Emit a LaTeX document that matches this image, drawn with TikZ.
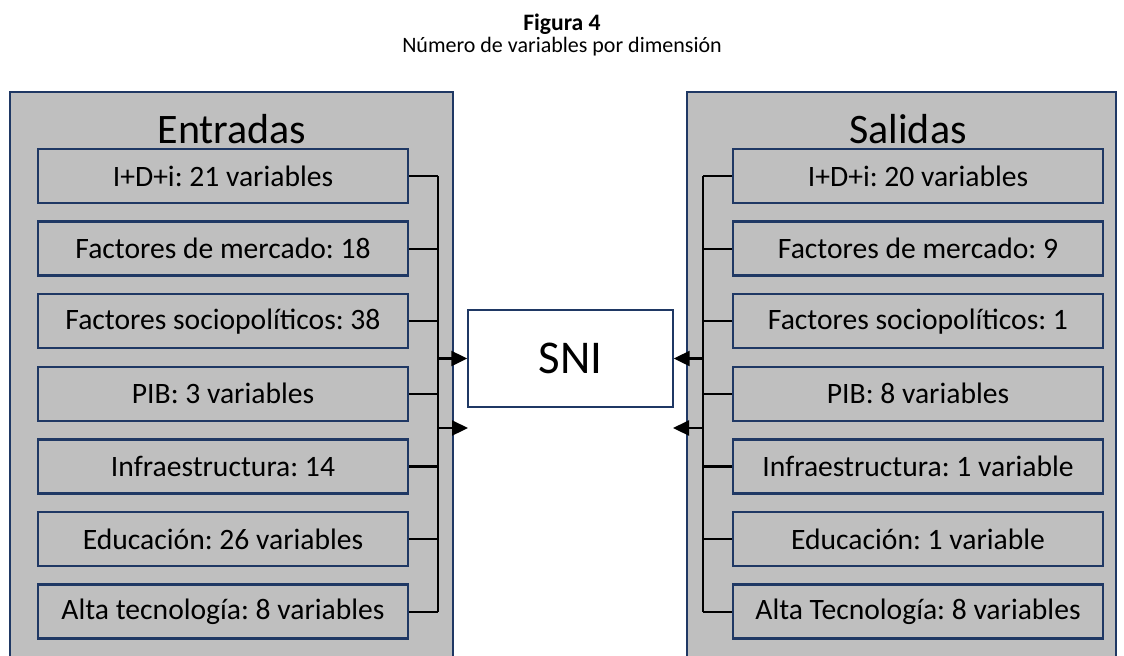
\documentclass[tikz,border=0pt]{standalone}
\usepackage{fontspec}
\setmainfont{Carlito}
\usetikzlibrary{arrows.meta}
\definecolor{navy}{RGB}{31,56,100}
\definecolor{boxgray}{RGB}{191,191,191}
\frenchspacing

\begin{document}
\begin{tikzpicture}[x=0.5pt,y=-0.5pt,
        panel/.style={
          draw=navy,fill=boxgray,line width=0.8pt
        },
        item/.style={
          draw=navy,fill=boxgray,line width=1.2pt,minimum width=185pt,
          minimum height=27pt,inner sep=0pt,font=\fontsize{14.8}{17}\selectfont
        },
        bus/.style={line width=1.1pt},
        feed/.style={bus,-{Triangle[length=8pt,width=7.5pt]}}
      ]
      \clip (0,0) rectangle (1124,655);
      \node [font=\bfseries\fontsize{11.8}{14}\selectfont,anchor=base] (fig) at (562,30) {Figura 4};
      \node [font=\fontsize{11}{13}\selectfont,anchor=base] (cap) at (562,52) {Número de variables por dimensión};
      \draw [panel] (10,92) rectangle (453,700);
      \draw [panel] (687,92) rectangle (1116,700);
      \node [font=\fontsize{21}{24}\selectfont,anchor=base] (ent) at (232,143) {Entradas};
      \node [font=\fontsize{21}{24}\selectfont,anchor=base] (sal) at (908,143) {Salidas};
      \node [draw=navy,fill=white,line width=0.7pt,minimum width=102.5pt,minimum height=48.5pt,
        font=\fontsize{23.5}{26}\selectfont] (sni) at (570.5,358.5) {SNI};
      \foreach \txt [count=\i] in {I+D+i: 21 variables,Factores de mercado: 18,
          Factores sociopolíticos: 38,PIB: 3 variables,Infraestructura: 14,
          Educación: 26 variables,Alta tecnología: 8 variables} {
        \node [item] (in\i) at (223,{176+72.6*(\i-1)}) {\txt};
        \coordinate (lb\i) at (438,{176+72.6*(\i-1)});
        \draw [bus] (in\i.east) -- (lb\i);
      }
      \foreach \txt [count=\i] in {I+D+i: 20 variables,Factores de mercado: 9,
          Factores sociopolíticos: 1,PIB: 8 variables,Infraestructura: 1 variable,
          Educación: 1 variable,Alta Tecnología: 8 variables} {
        \node [item] (out\i) at (918,{176+72.6*(\i-1)}) {\txt};
        \coordinate (rb\i) at (703,{176+72.6*(\i-1)});
        \draw [bus] (out\i.west) -- (rb\i);
      }
      \draw [bus] (lb1) -- (lb7);
      \draw [bus] (rb1) -- (rb7);
      \coordinate (la1) at (438,358.5);
      \coordinate (la2) at (438,428);
      \coordinate (lt2) at (468,428);
      \coordinate (ra1) at (703,358.5);
      \coordinate (ra2) at (703,428);
      \coordinate (rt2) at (673,428);
      \draw [feed] (la1) -- (sni.west);
      \draw [feed] (la2) -- (lt2);
      \draw [feed] (ra1) -- (sni.east);
      \draw [feed] (ra2) -- (rt2);
    \end{tikzpicture}
\end{document}
